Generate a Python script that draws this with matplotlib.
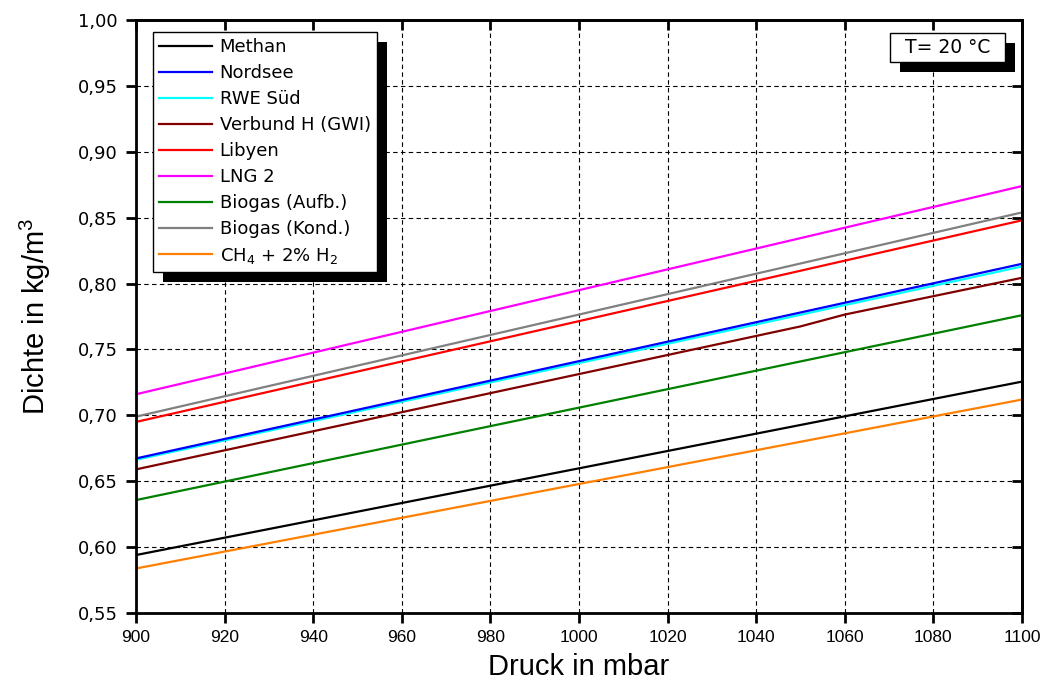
import numpy as np
import matplotlib
matplotlib.use("Agg")
import matplotlib.pyplot as plt
from matplotlib.ticker import FuncFormatter, MultipleLocator
from matplotlib.patches import Rectangle

plt.rcParams['mathtext.default'] = 'regular'

druck = [900, 1100]
methan = [0.594, 0.7256]
nordsee = [0.6673, 0.815]
rwe_sued = [0.6663, 0.813]
libyen = [0.695, 0.848]
lng2 = [0.716, 0.874]
biogas_aufb = [0.6357, 0.776]
biogas_kond = [0.699, 0.854]
ch4_h2 = [0.5838, 0.712]
# Verbund H hat einen kleinen Knick
druck_verbund = [900, 1050, 1060, 1100]
verbund = [0.659, 0.7675, 0.7765, 0.8044]

series = [
    ("Methan", druck, methan, "#000000"),
    ("Nordsee", druck, nordsee, "#0000ff"),
    ("RWE Süd", druck, rwe_sued, "#00ffff"),
    ("Verbund H (GWI)", druck_verbund, verbund, "#800000"),
    ("Libyen", druck, libyen, "#ff0000"),
    ("LNG 2", druck, lng2, "#ff00ff"),
    ("Biogas (Aufb.)", druck, biogas_aufb, "#008000"),
    ("Biogas (Kond.)", druck, biogas_kond, "#808080"),
    ("CH$_4$ + 2% H$_2$", druck, ch4_h2, "#ff8000"),
]

narrow = ["Liberation Sans Narrow", "Liberation Sans", "DejaVu Sans"]

fig = plt.figure(figsize=(10.52, 6.86), dpi=100)
ax = fig.add_axes([0.1293, 0.1064, 0.8422, 0.8644])

# zeichenreihenfolge: nordsee ueber cyan
order = [0, 2, 1, 3, 4, 5, 6, 7, 8]
handles = [None] * len(series)
for i in order:
    name, xs, ys, c = series[i]
    handles[i], = ax.plot(xs, ys, color=c, lw=1.6, label=name)

ax.set_xlim(900, 1100)
ax.set_ylim(0.55, 1.00)
ax.xaxis.set_major_locator(MultipleLocator(20))
ax.yaxis.set_major_locator(MultipleLocator(0.05))
ax.yaxis.set_major_formatter(FuncFormatter(lambda v, p: f"{v:.2f}".replace('.', ',')))
ax.grid(True, color='black', ls=(0, (4, 3)), lw=0.8)

for s in ax.spines.values():
    s.set_linewidth(2)
ax.tick_params(axis='both', which='major', direction='out', length=7, width=2)
ax.tick_params(axis='x', labelsize=12.5, pad=5)
ax.tick_params(axis='y', labelsize=13, pad=6)
for lab in ax.get_xticklabels():
    lab.set_family(narrow)
for lab in ax.get_yticklabels():
    lab.set_family(["DejaVu Sans"])

# Innenticks oben und rechts
top = ax.secondary_xaxis('top')
top.xaxis.set_major_locator(MultipleLocator(20))
top.tick_params(direction='in', length=7, width=2, labeltop=False)
right = ax.secondary_yaxis('right')
right.yaxis.set_major_locator(MultipleLocator(0.05))
right.tick_params(direction='in', length=7, width=2, labelright=False)
for sec in (top, right):
    for s in sec.spines.values():
        s.set_linewidth(2)

ax.set_xlabel("Druck in mbar", fontsize=21, family=narrow, labelpad=6)
ax.set_ylabel("Dichte in kg/m$^3$", fontsize=21, family=narrow, labelpad=18)

leg = ax.legend(handles=handles, loc='upper left', bbox_to_anchor=(0.019, 0.98),
                borderaxespad=0, labelspacing=0.44, handlelength=2.9, handletextpad=0.45,
                borderpad=0.35, fancybox=False, framealpha=1, edgecolor='black',
                prop={'family': 'DejaVu Sans', 'size': 13})
leg.get_frame().set_linewidth(1.0)
leg.set_zorder(10)

# Temperaturbox
box = Rectangle((0.851, 0.929), 0.130, 0.049, transform=ax.transAxes,
                facecolor='white', edgecolor='black', lw=1.0, zorder=10, clip_on=False)
ax.add_patch(box)
ax.text(0.916, 0.9535, "T= 20 °C", transform=ax.transAxes, ha='center', va='center',
        fontsize=13.5, family=["DejaVu Sans"], zorder=11)

# schwarze Schatten hinter Legende und Textbox
fig.canvas.draw()
r = fig.canvas.get_renderer()
for bb in [leg.get_window_extent(r), box.get_window_extent(r)]:
    ax.add_patch(Rectangle((bb.x0 + 10, bb.y0 - 10), bb.width, bb.height,
                           transform=None, facecolor='black', edgecolor='none',
                           zorder=9, clip_on=False))

fig.savefig("out.png", dpi=100)
